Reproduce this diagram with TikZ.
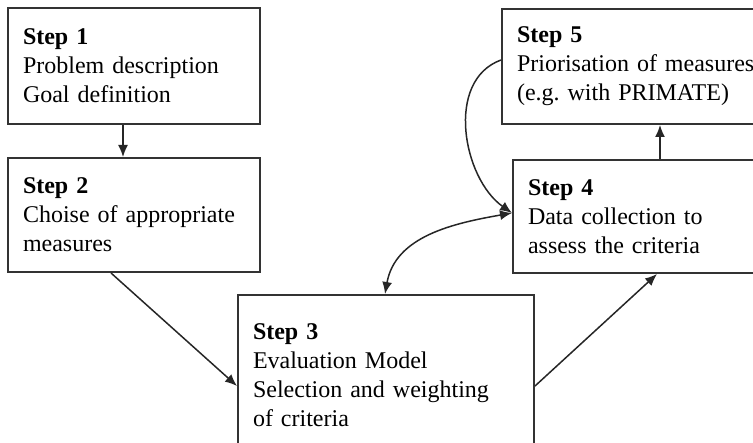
\documentclass[tikz,border=0pt]{standalone}
\usepackage{fontspec}
\setmainfont{Liberation Serif}
\usetikzlibrary{arrows.meta}
\frenchspacing
\begin{document}
\begin{tikzpicture}[x=0.5pt,y=-0.5pt,
  stepbox/.style={draw=black!80, line width=1pt, anchor=north west,
    inner xsep=7.5pt, inner ysep=0pt, align=left,
    font=\fontsize{12}{14.5}\selectfont},
  link/.style={draw=black!85, line width=0.75pt},
  tip/.tip={Latex[length=6pt,width=5pt]},
  arr/.style={link, -tip},
  dblarr/.style={link, tip-tip}]
\useasboundingbox (0,0) rectangle (753,443);
\clip (0,0) rectangle (753,443);

% process steps
\node[stepbox, text width=111pt, minimum height=58pt] (s1) at (7,7)
  {\textbf{Step 1}\\Problem description\\Goal definition};
\node[stepbox, text width=111pt, minimum height=57pt] (s2) at (7,157)
  {\textbf{Step 2}\\Choise of appropriate\\measures};
\node[stepbox, text width=133pt, minimum height=80pt] (s3) at (237,294)
  {\textbf{Step 3}\\Evaluation Model\\Selection and weighting\\of criteria};
\node[stepbox, text width=119pt, minimum height=56.5pt] (s4) at (512,159)
  {\textbf{Step 4}\\Data collection to\\assess the criteria};
\node[stepbox, text width=124.5pt, minimum height=57.5pt] (s5) at (501,8)
  {\textbf{Step 5}\\Priorisation of measures\\(e.g. with PRIMATE)};

% connectors
\draw[arr] ([xshift=-5.5pt]s1.south) -- ([xshift=-5.5pt]s2.north);
\draw[arr] ([xshift=-11.5pt]s2.south) -- ([yshift=-5.5pt]s3.west);
\draw[arr] ([yshift=-5.5pt]s3.east) -- ([xshift=72.5pt]s4.south west);
\draw[arr] ([xshift=74pt]s4.north west) -- ([xshift=74pt]s4.north west |- s5.south);
\draw[dblarr] ([xshift=74pt]s3.north west) to[out=80, in=190] ([yshift=-27pt]s4.north west);
\draw[arr] ([yshift=-26pt]s5.north west) to[out=200, in=145] ([yshift=-27pt]s4.north west);
\end{tikzpicture}
\end{document}
